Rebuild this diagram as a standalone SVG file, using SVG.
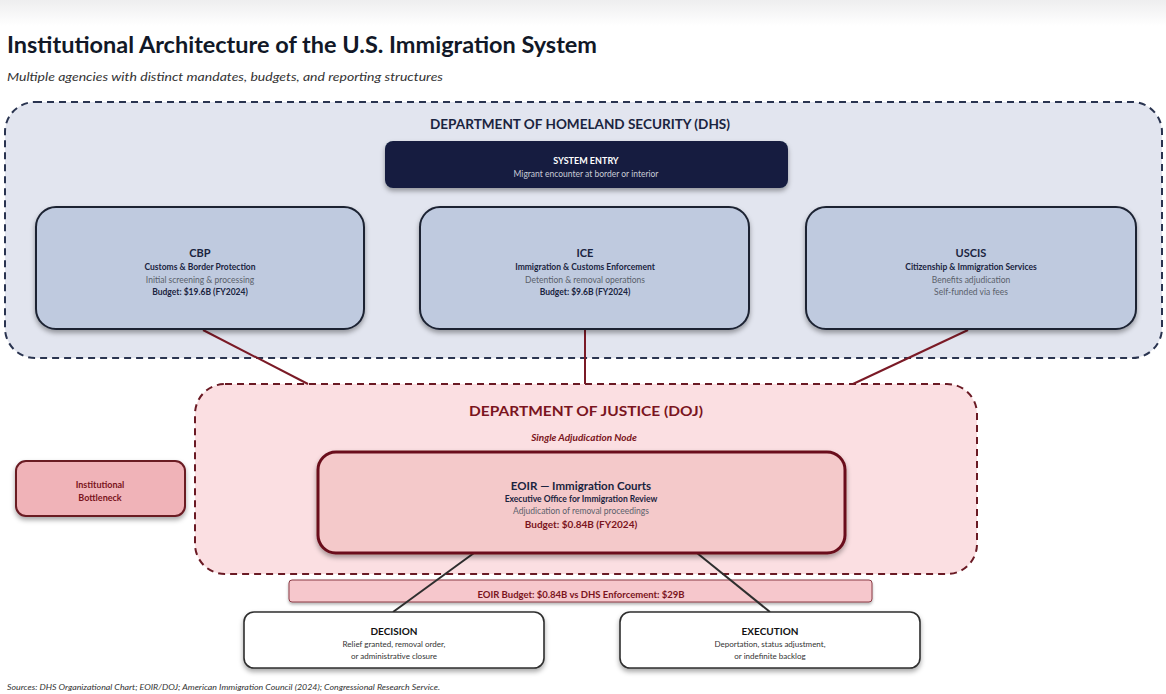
<svg xmlns="http://www.w3.org/2000/svg" width="1166" height="694" viewBox="0 0 1166 694">
<defs>
<linearGradient id="topbg" x1="0" y1="0" x2="0" y2="1">
<stop offset="0" stop-color="#eeeeef"/>
<stop offset="1" stop-color="#ffffff"/>
</linearGradient>
<filter id="sh" x="-10%" y="-10%" width="120%" height="130%">
<feDropShadow dx="0" dy="3" stdDeviation="2.5" flood-color="#000" flood-opacity="0.35"/>
</filter>
<filter id="sh2" x="-10%" y="-20%" width="120%" height="150%">
<feDropShadow dx="0" dy="2" stdDeviation="1.5" flood-color="#000" flood-opacity="0.3"/>
</filter>
</defs>
<style>
text{font-family:Lato,"Liberation Sans",sans-serif;text-anchor:middle}
.l{text-anchor:start}
.b{font-weight:bold}
.i{font-style:italic}
.agency{fill:#bfcadf;stroke:#1c2333;stroke-width:2}
.navy{fill:#1a2440}
.gray{fill:#5a5f6a}
.red{fill:#7a1420}
.conn-red{stroke:#7a1a26;stroke-width:2;fill:none}
.conn-dark{stroke:#2e2e2e;stroke-width:2;fill:none}
.outcome{fill:#ffffff;stroke:#2f2f2f;stroke-width:1.6}
</style>
<rect x="0" y="0" width="1166" height="694" fill="#ffffff"/>
<rect x="0" y="0" width="1166" height="26" fill="url(#topbg)"/>
<text class="l b" x="7" y="53" font-size="22" fill="#111827" textLength="590" lengthAdjust="spacingAndGlyphs">Institutional Architecture of the U.S. Immigration System</text>
<text class="l i" x="7" y="81" font-size="11" fill="#333" textLength="436" lengthAdjust="spacingAndGlyphs">Multiple agencies with distinct mandates, budgets, and reporting structures</text>

<g id="dhs">
<rect x="5" y="102" width="1157" height="256" rx="30" fill="#e2e5ef" stroke="#2a3450" stroke-width="2" stroke-dasharray="7 5"/>
<text class="b navy" x="580" y="129" font-size="13" textLength="300" lengthAdjust="spacingAndGlyphs">DEPARTMENT OF HOMELAND SECURITY (DHS)</text>
</g>

<g id="doj">
<rect x="195" y="384" width="782" height="190" rx="30" fill="#fbdfe2" stroke="#6a1a24" stroke-width="2" stroke-dasharray="7 5"/>
<text class="b red" x="586" y="416" font-size="13" textLength="234" lengthAdjust="spacingAndGlyphs">DEPARTMENT OF JUSTICE (DOJ)</text>
<text class="b i red" x="584" y="441" font-size="10">Single Adjudication Node</text>
</g>

<g id="budget-bar">
<rect x="289" y="580" width="583" height="22" rx="3" fill="#f6c7cc" stroke="#8a3a45" stroke-width="1" filter="url(#sh2)"/>
<text class="b red" x="581" y="598" font-size="9.5">EOIR Budget: $0.84B vs DHS Enforcement: $29B</text>
</g>

<g id="connectors">
<line class="conn-red" x1="203" y1="330" x2="308" y2="384"/>
<line class="conn-red" x1="585" y1="330" x2="585" y2="384"/>
<line class="conn-red" x1="968" y1="330" x2="853" y2="384"/>
<line class="conn-dark" x1="474" y1="553" x2="393" y2="612"/>
<line class="conn-dark" x1="697" y1="553" x2="770" y2="612"/>
</g>

<g id="system-entry">
<rect x="385" y="141" width="403" height="47" rx="8" fill="#141f40" filter="url(#sh)"/>
<text class="b" x="586" y="164" font-size="9" fill="#ffffff">SYSTEM ENTRY</text>
<text x="586" y="177" font-size="8.5" fill="#c8cbd6">Migrant encounter at border or interior</text>
</g>

<g id="cbp">
<rect class="agency" x="36" y="207" width="328" height="122" rx="20" filter="url(#sh)"/>
<text class="b navy" x="200" y="257" font-size="11">CBP</text>
<text class="b navy" x="200" y="270" font-size="8.5">Customs &amp; Border Protection</text>
<text class="gray" x="200" y="283" font-size="8.5">Initial screening &amp; processing</text>
<text class="b navy" x="200" y="295" font-size="8.5">Budget: $19.6B (FY2024)</text>
</g>

<g id="ice">
<rect class="agency" x="420" y="207" width="329" height="122" rx="20" filter="url(#sh)"/>
<text class="b navy" x="585" y="257" font-size="11">ICE</text>
<text class="b navy" x="585" y="270" font-size="8.5">Immigration &amp; Customs Enforcement</text>
<text class="gray" x="585" y="283" font-size="8.5">Detention &amp; removal operations</text>
<text class="b navy" x="585" y="295" font-size="8.5">Budget: $9.6B (FY2024)</text>
</g>

<g id="uscis">
<rect class="agency" x="806" y="207" width="330" height="122" rx="20" filter="url(#sh)"/>
<text class="b navy" x="971" y="257" font-size="11">USCIS</text>
<text class="b navy" x="971" y="270" font-size="8.5">Citizenship &amp; Immigration Services</text>
<text class="gray" x="971" y="283" font-size="8.5">Benefits adjudication</text>
<text class="gray" x="971" y="295" font-size="8.5">Self-funded via fees</text>
</g>

<g id="eoir">
<rect x="318" y="452" width="527" height="101" rx="18" fill="#f4c9ca" stroke="#6a0f1a" stroke-width="3" filter="url(#sh)"/>
<text class="b navy" x="581" y="490" font-size="11.5">EOIR — Immigration Courts</text>
<text class="b navy" x="581" y="502" font-size="8.5">Executive Office for Immigration Review</text>
<text class="gray" x="581" y="514" font-size="8.5">Adjudication of removal proceedings</text>
<text class="b red" x="581" y="528" font-size="10">Budget: $0.84B (FY2024)</text>
</g>

<g id="bottleneck">
<rect x="16" y="461" width="169" height="55" rx="10" fill="#f0b3b8" stroke="#6a1a24" stroke-width="2" filter="url(#sh)"/>
<text class="b red" x="100" y="488" font-size="9">Institutional</text>
<text class="b red" x="100" y="501" font-size="9">Bottleneck</text>
</g>

<g id="decision">
<rect class="outcome" x="244" y="612" width="300" height="56" rx="10" filter="url(#sh)"/>
<text class="b" x="394" y="635" font-size="10" fill="#111">DECISION</text>
<text x="394" y="647" font-size="8" fill="#333">Relief granted, removal order,</text>
<text x="394" y="659" font-size="8" fill="#333">or administrative closure</text>
</g>

<g id="execution">
<rect class="outcome" x="620" y="612" width="300" height="56" rx="10" filter="url(#sh)"/>
<text class="b" x="770" y="635" font-size="10" fill="#111">EXECUTION</text>
<text x="770" y="647" font-size="8" fill="#333">Deportation, status adjustment,</text>
<text x="770" y="659" font-size="8" fill="#333">or indefinite backlog</text>
</g>

<text class="l i" x="7" y="690" font-size="7.5" fill="#333" textLength="433" lengthAdjust="spacingAndGlyphs">Sources: DHS Organizational Chart; EOIR/DOJ; American Immigration Council (2024); Congressional Research Service.</text>
</svg>
